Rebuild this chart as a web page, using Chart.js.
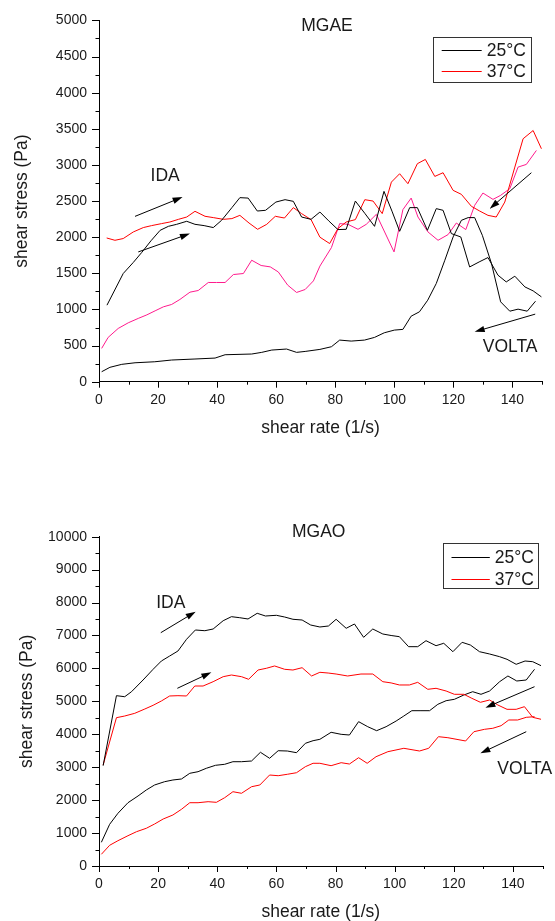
<!DOCTYPE html>
<html>
<head>
<meta charset="utf-8">
<script src="https://cdn.jsdelivr.net/npm/chart.js@4.4.1/dist/chart.umd.min.js"></script>
<style>
  html, body { margin: 0; padding: 0; background: #fff; }
  body { width: 555px; height: 921px; position: relative; overflow: hidden; }
  canvas { position: absolute; left: 0; }
  #mgae { top: 0; }
  #mgao { top: 460px; }
</style>
</head>
<body>
<canvas id="mgae" width="555" height="450"></canvas>
<canvas id="mgao" width="555" height="461"></canvas>
<script>
// legend labels
const seriesLabels = ['25°C', '37°C'];

// tick labels (the other ticks are minor, unlabelled)
const xTickLabels = [0, 20, 40, 60, 80, 100, 120, 140];
const mgaeYLabels = [0, 500, 1000, 1500, 2000, 2500, 3000, 3500, 4000, 4500, 5000];
const mgaoYLabels = [0, 1000, 2000, 3000, 4000, 5000, 6000, 7000, 8000, 9000, 10000];

// ---- MGAE ----
// 25°C going up (IDA)
const mgae25UpX = [2.7, 8.2, 11.6, 14.5, 17.6, 20.7, 23.5, 26.3, 29.7, 32.5, 35.6, 38.7, 41.5, 45, 47.7, 50.5, 53.6, 56.4, 59.9, 63, 65.8, 68.6, 71.8, 74.8, 77.8, 80.9, 83.7, 86.8, 90, 93.3, 96.5, 99.2, 101.8, 105.2, 107.8, 111.2, 114.2, 116.5, 119.3, 122.5, 125.5, 128.7, 131.7, 135.1, 137.9, 140.8, 144.2, 147, 149.8];
const mgae25UpY = [1059, 1497, 1650, 1790, 1950, 2095, 2150, 2178, 2220, 2178, 2160, 2133, 2233, 2409, 2547, 2541, 2362, 2372, 2486, 2519, 2496, 2279, 2247, 2348, 2225, 2105, 2109, 2500, 2330, 2150, 2634, 2360, 2081, 2409, 2409, 2095, 2395, 2372, 2050, 2003, 1588, 1657, 1718, 1474, 1381, 1460, 1312, 1257, 1174];
// 25°C coming down (VOLTA)
const mgae25DownX = [0.9, 3.7, 7.7, 12.2, 18.9, 24.6, 32.5, 39.3, 42.7, 51.7, 55.1, 58.5, 63.5, 66.9, 69.8, 74.8, 78.7, 81.5, 85.4, 89.9, 93.3, 96.6, 100, 102.9, 105.7, 108.5, 111.3, 114.2, 117.1, 119.9, 122.7, 125, 127.2, 129.8, 132.9, 136, 139.1, 141.9, 145, 147.8];
const mgae25DownY = [138, 199, 240, 262, 276, 300, 314, 327, 373, 383, 406, 438, 452, 406, 419, 447, 484, 576, 562, 576, 613, 677, 714, 724, 907, 967, 1128, 1359, 1681, 2003, 2233, 2271, 2271, 2026, 1635, 1105, 976, 1004, 976, 1114];
// 37°C going up (IDA)
const mgae37UpX = [2.6, 5.4, 8.2, 11.6, 15, 17.8, 21.2, 24, 26.9, 29.7, 32.5, 35.9, 38.7, 42.1, 45, 47.7, 50.8, 53.7, 56.8, 59.7, 62.8, 65.8, 68.6, 71.8, 74.8, 78.1, 80.9, 83.7, 86.8, 90, 92.8, 95.9, 99, 101.8, 104.6, 107.8, 110.5, 113.7, 116.5, 119.9, 122.7, 126.1, 128.9, 131.7, 134.5, 137.4, 140.8, 143.6, 147, 149.8];
const mgae37UpY = [1989, 1957, 1981, 2072, 2133, 2160, 2188, 2210, 2247, 2279, 2358, 2289, 2271, 2247, 2257, 2302, 2196, 2109, 2178, 2289, 2265, 2409, 2326, 2243, 2000, 1912, 2119, 2210, 2243, 2519, 2500, 2326, 2762, 2878, 2740, 3017, 3076, 2841, 2892, 2648, 2593, 2427, 2362, 2302, 2279, 2486, 2970, 3362, 3476, 3224];
// 37°C coming down (VOLTA)
const mgae37DownX = [0.9, 3.1, 6.5, 9.9, 13.3, 16.2, 19, 21.8, 24.6, 27.4, 30.8, 33.6, 37, 39.8, 42.7, 45.5, 48.9, 51.7, 54.9, 58, 60.7, 63.9, 66.9, 69.8, 72.6, 74.8, 78.7, 81.5, 84.3, 87.7, 90.5, 93.9, 99.9, 102.9, 105.7, 108, 111.4, 114.8, 118.2, 121, 124.2, 127.2, 130, 133.4, 136, 139.1, 141.9, 144.7, 148.1];
const mgae37DownY = [461, 613, 737, 815, 876, 925, 981, 1036, 1069, 1138, 1239, 1262, 1373, 1373, 1373, 1483, 1497, 1681, 1608, 1589, 1519, 1336, 1235, 1276, 1395, 1600, 1856, 2188, 2178, 2109, 2178, 2316, 1796, 2381, 2541, 2279, 2072, 1957, 2036, 2196, 2105, 2441, 2611, 2523, 2579, 2671, 2970, 3007, 3200];

// ---- MGAO ----
const mgao25UpX = [1.4, 5.9, 8.7, 11, 14.9, 18.3, 21.1, 23.9, 26.7, 29.6, 32.6, 35.8, 38.6, 42, 44.8, 47.6, 50.4, 53.5, 56.3, 60, 62.8, 65.6, 68.7, 71.6, 74.7, 77.6, 80.2, 83.6, 86.4, 89.5, 92.6, 96, 98.8, 101.6, 104.7, 107.8, 110.6, 114, 116.6, 119.7, 122.8, 125.6, 128.7, 132.1, 135.5, 138, 141.1, 144.1, 146.7, 149.5];
const mgao25UpY = [3046, 5172, 5141, 5293, 5648, 5973, 6225, 6377, 6529, 6884, 7167, 7145, 7197, 7449, 7571, 7540, 7501, 7674, 7592, 7613, 7561, 7492, 7470, 7318, 7258, 7288, 7492, 7218, 7349, 6945, 7197, 7045, 7000, 6964, 6660, 6660, 6842, 6690, 6763, 6508, 6793, 6711, 6508, 6438, 6356, 6277, 6125, 6225, 6204, 6083];
const mgao25DownX = [0.8, 3.6, 6.4, 9.8, 13.2, 16, 18.8, 22.2, 25, 27.9, 30.7, 33.5, 36.3, 39.4, 42.5, 45.3, 48.2, 51.6, 54.6, 57.7, 60.6, 63.7, 66.8, 69.8, 72.4, 74.7, 78.5, 81.9, 84.7, 87.8, 90.9, 93.9, 97.1, 100.5, 103.1, 105.8, 108.9, 111.8, 114.6, 117.4, 120.2, 123.4, 126.4, 129.2, 132.1, 135.5, 138.3, 141.3, 144.5, 147.3];
const mgao25DownY = [720, 1266, 1600, 1922, 2126, 2308, 2460, 2560, 2612, 2642, 2815, 2864, 2967, 3058, 3088, 3167, 3167, 3189, 3453, 3271, 3501, 3492, 3441, 3726, 3805, 3847, 4060, 3999, 3978, 4383, 4230, 4109, 4230, 4403, 4555, 4716, 4716, 4716, 4910, 5020, 5062, 5193, 5293, 5214, 5314, 5597, 5770, 5618, 5648, 5973];
const mgao37UpX = [1.4, 5.9, 8.7, 12.1, 15.5, 18.3, 21.1, 23.9, 26.7, 29.6, 32.4, 35.2, 38.6, 42, 44.8, 48.2, 50.6, 53.8, 56.6, 59.4, 62.8, 65.6, 68.7, 71.9, 74.7, 77.5, 80.2, 84.1, 88.6, 92.6, 96, 98.8, 101.6, 105, 107.8, 111.2, 114, 117.4, 120.2, 123.4, 126.1, 129, 132.1, 134.9, 138, 141.1, 143.9, 146.7, 149.5];
const mgao37UpY = [3067, 4504, 4555, 4637, 4768, 4880, 5011, 5163, 5172, 5163, 5466, 5466, 5597, 5749, 5800, 5749, 5670, 5952, 6004, 6074, 5973, 5952, 6022, 5770, 5882, 5860, 5830, 5770, 5830, 5830, 5597, 5560, 5497, 5497, 5578, 5366, 5396, 5314, 5214, 5214, 5093, 4971, 5041, 4889, 4758, 4758, 4838, 4515, 4455];
const mgao37DownX = [0.8, 3.6, 6.4, 9.8, 12.7, 16, 18.8, 21.7, 25, 27.9, 30.7, 33.5, 36.9, 39.7, 42.5, 45.3, 48.2, 51.6, 54.4, 57.7, 60.6, 63.7, 66.8, 69.8, 72.4, 74.7, 78.5, 81.9, 84.7, 87.8, 90.7, 93.7, 97.7, 103.1, 108.4, 111.5, 114.8, 118, 124, 126.8, 130.4, 133.2, 136, 138.6, 141.6, 144.5, 147.3];
const mgao37DownY = [355, 629, 768, 920, 1042, 1145, 1275, 1427, 1549, 1722, 1922, 1922, 1953, 1934, 2074, 2256, 2208, 2408, 2460, 2763, 2742, 2785, 2833, 3016, 3119, 3119, 3046, 3137, 3097, 3289, 3119, 3319, 3471, 3574, 3492, 3574, 3927, 3896, 3796, 4078, 4151, 4182, 4261, 4434, 4434, 4515, 4534];

// annotations, in data units: [x1, y1, x2, y2] arrows and [text, x, y]
const mgaeArrows = [[12.2, 2288, 28.3, 2555], [13.3, 1796, 30.8, 2050], [146.4, 2892, 132.3, 2395], [147.7, 935, 127.2, 691]];
const mgaeNotes = [['MGAE', 77.2, 4927], ['IDA', 22.4, 2841], ['VOLTA', 139.2, 479]];
const mgaoArrows = [[20.9, 7085, 32.7, 7722], [26.5, 5396, 38, 5882], [147.3, 5445, 130.7, 4807], [144.5, 4078, 129, 3422]];
const mgaoNotes = [['MGAO', 74.3, 10143], ['IDA', 24.3, 7987], ['VOLTA', 144, 2946]];

const FONT = "'Liberation Sans', Arial, sans-serif";
const TEXT = '#1a1a1a';
Chart.defaults.font.family = FONT;
Chart.defaults.color = TEXT;

function pts(xs, ys) {
    return xs.map((x, i) => ({ x: x, y: ys[i] }));
}

function line(label, xs, ys, color) {
    return {
        label: label,
        data: pts(xs, ys),
        borderColor: color,
        borderWidth: 1,
        pointRadius: 0,
        tension: 0,
        fill: false
    };
}

// Origin style ticks: long for labelled, short for the others
const axisTicks = {
    id: 'axisTicks',
    afterDraw(chart) {
        const ctx = chart.ctx;
        const sx = chart.scales.x;
        const sy = chart.scales.y;
        ctx.save();
        ctx.strokeStyle = '#000';
        ctx.lineWidth = 1;
        ctx.beginPath();
        sx.ticks.forEach((t, i) => {
            const px = Math.round(sx.getPixelForTick(i)) + 0.5;
            const len = t.label ? 6 : 3;
            ctx.moveTo(px, sx.top);
            ctx.lineTo(px, sx.top + len);
        });
        sy.ticks.forEach((t, i) => {
            const py = Math.round(sy.getPixelForTick(i)) + 0.5;
            const len = t.label ? 7 : 3.5;
            ctx.moveTo(sy.right, py);
            ctx.lineTo(sy.right - len, py);
        });
        ctx.stroke();
        ctx.restore();
    }
};

// arrows + free text
const notes = {
    id: 'notes',
    afterDatasetsDraw(chart, args, opts) {
        const ctx = chart.ctx;
        const sx = chart.scales.x;
        const sy = chart.scales.y;
        ctx.save();
        ctx.strokeStyle = '#000';
        ctx.fillStyle = '#000';
        ctx.lineWidth = 1;
        opts.arrows.forEach(a => {
            const x1 = sx.getPixelForValue(a[0]), y1 = sy.getPixelForValue(a[1]);
            const x2 = sx.getPixelForValue(a[2]), y2 = sy.getPixelForValue(a[3]);
            const ang = Math.atan2(y2 - y1, x2 - x1);
            const hl = 10, hw = 3.2;
            ctx.beginPath();
            ctx.moveTo(x1, y1);
            ctx.lineTo(x2 - Math.cos(ang) * hl * 0.8, y2 - Math.sin(ang) * hl * 0.8);
            ctx.stroke();
            ctx.beginPath();
            ctx.moveTo(x2, y2);
            ctx.lineTo(x2 - Math.cos(ang) * hl - Math.sin(ang) * hw, y2 - Math.sin(ang) * hl + Math.cos(ang) * hw);
            ctx.lineTo(x2 - Math.cos(ang) * hl + Math.sin(ang) * hw, y2 - Math.sin(ang) * hl - Math.cos(ang) * hw);
            ctx.closePath();
            ctx.fill();
        });
        ctx.fillStyle = TEXT;
        ctx.font = '17.5px ' + FONT;
        ctx.textAlign = 'center';
        ctx.textBaseline = 'middle';
        opts.texts.forEach(t => {
            ctx.fillText(t[0], sx.getPixelForValue(t[1]), sy.getPixelForValue(t[2]));
        });
        ctx.restore();
    }
};

// boxed legend inside the plot, top right
const boxLegend = {
    id: 'boxLegend',
    afterDraw(chart, args, opts) {
        const ctx = chart.ctx;
        const area = chart.chartArea;
        const left = area.right - opts.right - opts.width;
        const top = area.top + opts.top;
        ctx.save();
        ctx.strokeStyle = '#333';
        ctx.lineWidth = 1;
        ctx.fillStyle = '#fff';
        ctx.fillRect(left, top, opts.width, opts.height);
        ctx.strokeRect(Math.round(left) + 0.5, Math.round(top) + 0.5, Math.round(opts.width), Math.round(opts.height));
        ctx.font = '17.5px ' + FONT;
        ctx.textAlign = 'left';
        ctx.textBaseline = 'middle';
        const items = chart.data.datasets.filter(d => d.label);
        items.forEach((d, i) => {
            const y = Math.round(top + opts.rows[i]) + 0.5;
            ctx.strokeStyle = d.borderColor;
            ctx.beginPath();
            ctx.moveTo(left + opts.lineFrom, y);
            ctx.lineTo(left + opts.lineTo, y);
            ctx.stroke();
            ctx.fillStyle = TEXT;
            ctx.fillText(d.label, left + opts.textAt, y + 1);
        });
        ctx.restore();
    }
};

function makeChart(id, datasets, s) {
    return new Chart(document.getElementById(id), {
        type: 'line',
        data: { datasets: datasets },
        plugins: [axisTicks, notes, boxLegend],
        options: {
            responsive: false,
            animation: false,
            events: [],
            layout: { padding: { left: 0, right: s.padRight, top: s.padTop, bottom: 0 } },
            plugins: {
                legend: { display: false },
                tooltip: { enabled: false },
                notes: { arrows: s.arrows, texts: s.texts },
                boxLegend: s.legend
            },
            scales: {
                x: {
                    type: 'linear',
                    min: 0,
                    max: 150,
                    grid: { display: false, drawTicks: false },
                    border: { display: true, color: '#000', width: 1 },
                    ticks: {
                        stepSize: 10,
                        autoSkip: false,
                        maxRotation: 0,
                        padding: 10,
                        color: TEXT,
                        font: { size: 14 },
                        callback: v => xTickLabels.includes(v) ? String(v) : ''
                    },
                    title: {
                        display: true,
                        text: 'shear rate (1/s)',
                        color: TEXT,
                        font: { size: 17.5, lineHeight: 1 },
                        padding: { top: 0, bottom: s.xTitlePad }
                    },
                    afterFit: sc => { sc.height = s.xAxisH; }
                },
                y: {
                    type: 'linear',
                    min: 0,
                    max: s.yMax,
                    grid: { display: false, drawTicks: false },
                    border: { display: true, color: '#000', width: 1 },
                    ticks: {
                        stepSize: s.yStep,
                        autoSkip: false,
                        padding: 12,
                        color: TEXT,
                        font: { size: 14 },
                        callback: v => s.yLabels.includes(v) ? String(v) : ''
                    },
                    title: {
                        display: true,
                        text: 'shear stress (Pa)',
                        color: TEXT,
                        font: { size: 17.5, lineHeight: 1 },
                        padding: { top: s.yTitlePad, bottom: 0 }
                    },
                    afterFit: sc => { sc.width = 99; }
                }
            }
        }
    });
}

makeChart('mgae', [
    line(seriesLabels[0], mgae25UpX, mgae25UpY, '#000000'),
    line(seriesLabels[1], mgae37UpX, mgae37UpY, '#ff0000'),
    line('', mgae25DownX, mgae25DownY, '#000000'),
    line('', mgae37DownX, mgae37DownY, '#ff1a8c')
], {
    yMax: 5000, yStep: 250, yLabels: mgaeYLabels,
    padTop: 19.7, padRight: 13, xAxisH: 68.3,
    xTitlePad: 13.25, yTitlePad: 13.25,
    arrows: mgaeArrows, texts: mgaeNotes,
    legend: { right: 10.3, top: 16.3, width: 98.4, height: 44.7, rows: [13.3, 34.7], lineFrom: 8.4, lineTo: 48.4, textAt: 53.4 }
});

makeChart('mgao', [
    line(seriesLabels[0], mgao25UpX, mgao25UpY, '#000000'),
    line(seriesLabels[1], mgao37UpX, mgao37UpY, '#ff0000'),
    line('', mgao25DownX, mgao25DownY, '#000000'),
    line('', mgao37DownX, mgao37DownY, '#ff0000')
], {
    yMax: 10000, yStep: 500, yLabels: mgaoYLabels,
    padTop: 76.7, padRight: 12.5, xAxisH: 55,
    xTitlePad: 0, yTitlePad: 18.6,
    arrows: mgaoArrows, texts: mgaoNotes,
    legend: { right: 4.4, top: 6.6, width: 95, height: 45, rows: [13.4, 35.7], lineFrom: 8.4, lineTo: 46.7, textAt: 51.7 }
});
</script>
</body>
</html>
